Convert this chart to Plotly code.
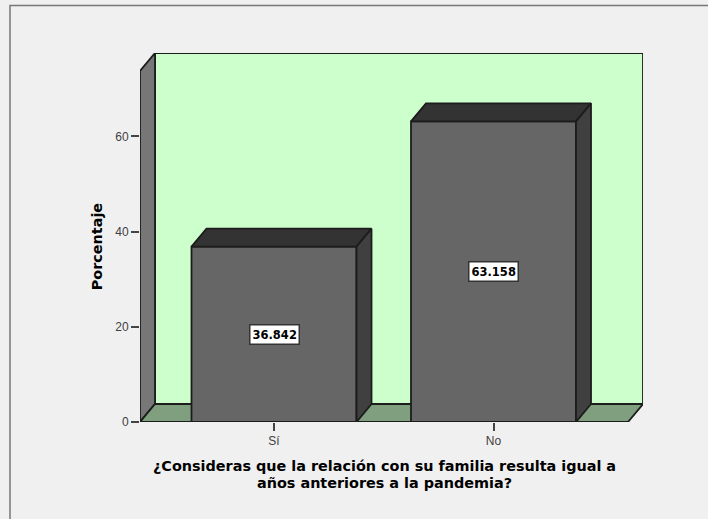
import plotly.graph_objects as go

categories = ["Sí", "No"]
values = [36.842, 63.158]
y_ticks = [0, 20, 40, 60]
y_title = "Porcentaje"
x_title_lines = ["¿Consideras que la relación con su familia resulta igual a",
                 "años anteriores a la pandemia?"]

W, H = 708, 519
# plot window in px
L, R, T, B = 140.0, 643.0, 52.5, 422.0
X0, STEP = 274.0, 219.5
PX_PER_Y = 4.767
# 3-D oblique offset in axis units
dx = 15 / STEP
dy = 18 / PX_PER_Y
half = 82.5 / STEP
xmin = (L - X0) / STEP
xmax = (R - X0) / STEP
ymax = (B - T) / PX_PER_Y
xs = list(range(len(categories)))

EDGE = "#1c1c1c"
LW = 1.8
TITLE_FONT = dict(family="DejaVu Sans", size=14.4, color="black")
TICK_FONT = dict(family="Liberation Sans", size=12, color="#404040")
shapes = []


def poly(xy, fill):
    path = "M " + " L ".join(f"{a},{b}" for a, b in xy) + " Z"
    return dict(type="path", path=path, xref="x", yref="y", fillcolor=fill,
                line=dict(color=EDGE, width=LW), layer="below")


def px_x(p):
    return (p - L) / (R - L)


def px_y(p):
    return (B - p) / (B - T)


wall_top = ymax - dy
right_front = xmax - dx
shapes += [
    dict(type="rect", xref="paper", yref="paper", x0=px_x(10), x1=1.2,
         y0=-0.5, y1=px_y(5), fillcolor="rgba(0,0,0,0)",
         line=dict(color="#777777", width=1.5), layer="below"),
    poly([(xmin + dx, dy), (xmax, dy), (xmax, ymax), (xmin + dx, ymax)], "#CCFFCC"),
    poly([(xmin, 0), (xmin + dx, dy), (xmin + dx, ymax), (xmin, wall_top)], "#777777"),
    poly([(xmin, 0), (right_front, 0), (xmax, dy), (xmin + dx, dy)], "#7F9F7F"),
]

fig = go.Figure()

fig.add_trace(go.Bar(
    x=xs, y=values, width=2 * half,
    marker=dict(color="#666666", line=dict(color=EDGE, width=LW)),
    showlegend=False, hoverinfo="skip",
))

for i, v in zip(xs, values):
    # top face
    fig.add_trace(go.Scatter(
        x=[i - half, i - half + dx, i + half + dx, i + half, i - half],
        y=[v, v + dy, v + dy, v, v],
        mode="lines", fill="toself", fillcolor="#333333",
        line=dict(color=EDGE, width=LW), showlegend=False, hoverinfo="skip",
    ))
    # side face
    fig.add_trace(go.Scatter(
        x=[i + half, i + half + dx, i + half + dx, i + half, i + half],
        y=[0, dy, v + dy, v, 0],
        mode="lines", fill="toself", fillcolor="#404040",
        line=dict(color=EDGE, width=LW), showlegend=False, hoverinfo="skip",
    ))

annotations = [
    dict(x=i, y=v / 2, xref="x", yref="y", text=f"<b>{v:.3f}</b>", showarrow=False,
         bgcolor="white", bordercolor="#333333", borderwidth=1.5, borderpad=2,
         font=dict(family="DejaVu Sans", size=11.5, color="black"))
    for i, v in zip(xs, values)
]
for text, py in zip(x_title_lines, [466, 483]):
    annotations.append(dict(
        x=px_x(384), y=px_y(py), xref="paper", yref="paper", text=f"<b>{text}</b>",
        showarrow=False, xanchor="center", yanchor="middle", font=TITLE_FONT))
annotations.append(dict(
    x=px_x(97), y=px_y(246), xref="paper", yref="paper", text=f"<b>{y_title}</b>",
    showarrow=False, textangle=-90, xanchor="center", yanchor="middle", font=TITLE_FONT))

fig.update_layout(
    width=W, height=H, autosize=False,
    margin=dict(l=L, r=W - R, t=T, b=H - B, pad=0),
    paper_bgcolor="#F0F0F0", plot_bgcolor="rgba(0,0,0,0)",
    shapes=shapes, annotations=annotations, showlegend=False,
    xaxis=dict(
        range=[xmin, xmax],
        tickmode="array", tickvals=xs, ticktext=categories,
        ticks="outside", ticklen=8, tickwidth=1.5, tickcolor="#444444",
        showgrid=False, zeroline=False, showline=False, tickfont=TICK_FONT,
    ),
    yaxis=dict(
        range=[0, ymax],
        tickmode="array", tickvals=y_ticks,
        ticks="outside", ticklen=8, tickwidth=1.5, tickcolor="#444444",
        showgrid=False, zeroline=False, showline=False, tickfont=TICK_FONT,
    ),
)

fig.write_html("out.html", config={"displayModeBar": False},
               post_script="document.body.style.margin='0';document.body.style.overflow='hidden';")
